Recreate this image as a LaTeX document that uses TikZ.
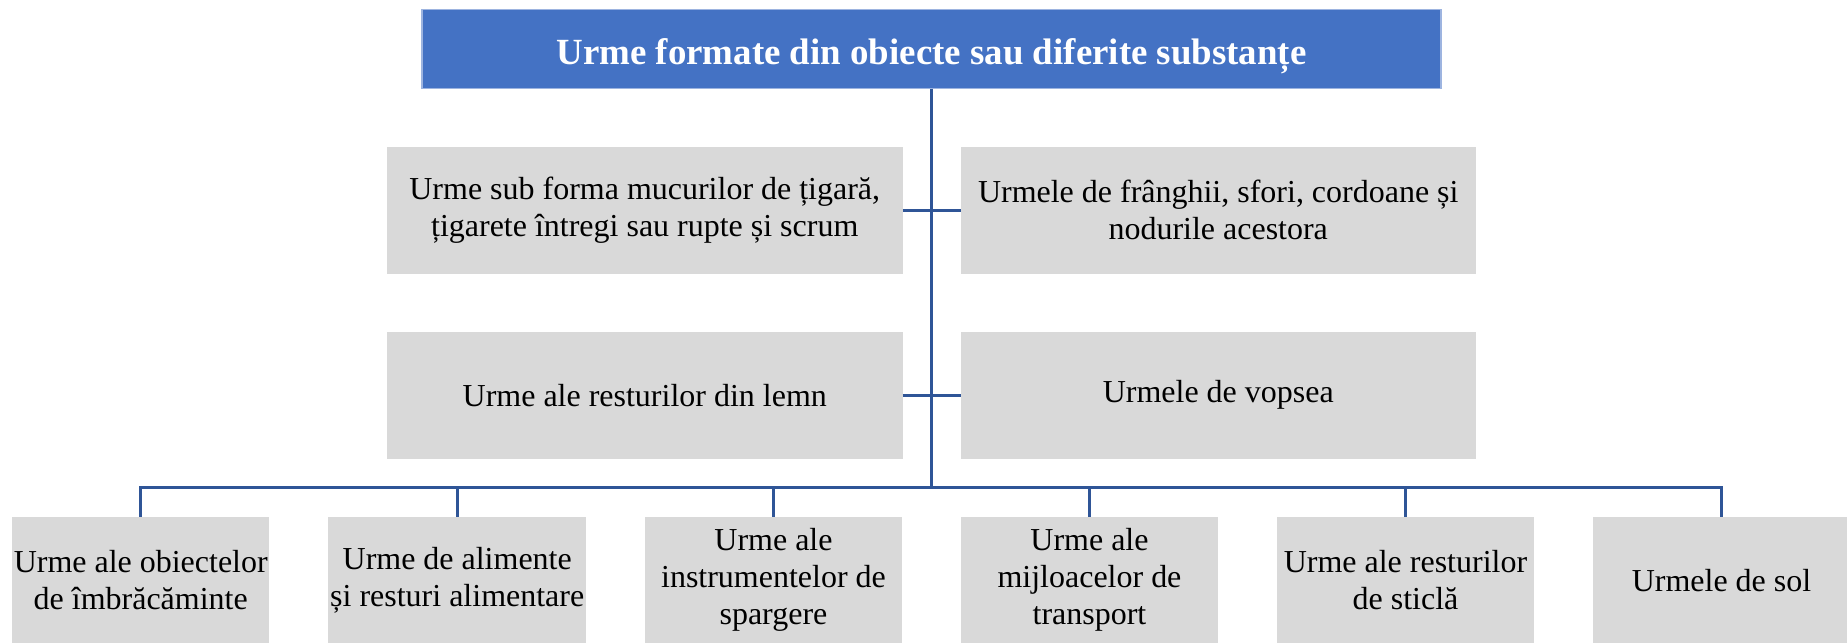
\documentclass[tikz,border=0pt]{standalone}
\usepackage{fontspec}
\setmainfont{Liberation Serif}
\definecolor{headblue}{HTML}{4472C4}
\definecolor{edgeblue}{HTML}{9DB4E0}
\definecolor{linkblue}{HTML}{2F5597}
\definecolor{boxgray}{HTML}{D9D9D9}
\usetikzlibrary{positioning}

\begin{document}
\begin{tikzpicture}[
    node distance=1.16cm,
    head/.style={rectangle, fill=headblue, draw=edgeblue, line width=0.6pt, text=white,
                 minimum width=20.38cm, minimum height=1.58cm, inner sep=2pt,
                 text height=17.5pt, text depth=0pt,
                 font=\fontsize{21}{24}\selectfont\bfseries},
    wide/.style={rectangle, fill=boxgray, minimum width=10.31cm, minimum height=2.54cm,
                 inner sep=1pt, outer sep=0pt, align=center, font=\fontsize{18.2}{21}\selectfont},
    leaf/.style={wide, minimum width=5.14cm},
    link/.style={draw=linkblue, line width=1.7pt}
  ]
    \useasboundingbox (0,0) rectangle (36.94,-12.84);

    \node[head] (title) at (18.63,-0.974) {Urme formate din obiecte sau diferite substanțe};

    % middle rows
    \node[wide, below left=1.16cm and 0.58cm of title.south, anchor=north east] (tigara)
      {Urme sub forma mucurilor de țigară,\\țigarete întregi sau rupte și scrum};
    \node[wide, right=of tigara] (franghii) {Urmele de frânghii, sfori, cordoane și\\nodurile acestora};
    \node[wide, below=of tigara] (lemn) {Urme ale resturilor din lemn};
    \node[wide, right=of lemn] (vopsea) {Urmele de vopsea};

    % bottom row
    \node[leaf, anchor=north west] (haine) at (0.24,-10.334) {Urme ale obiectelor\\de îmbrăcăminte};
    \node[leaf, right=1.18cm of haine] (hrana) {Urme de alimente\\și resturi alimentare};
    \node[leaf, right=1.18cm of hrana] (sparg) {Urme ale\\instrumentelor de\\spargere};
    \node[leaf, right=1.18cm of sparg] (transp) {Urme ale\\mijloacelor de\\transport};
    \node[leaf, right=1.18cm of transp] (sticla) {Urme ale resturilor\\de sticlă};
    \node[leaf, right=1.18cm of sticla] (sol) {Urmele de sol};

    \coordinate[above=0.58cm of haine.north] (bus);

    \draw[link, line width=2pt] (title.south) -- (title.south |- bus);
    \draw[link] (tigara.east) -- (franghii.west);
    \draw[link] (lemn.east) -- (vopsea.west);

    \draw[link] (haine.north) -- (bus) -| (sol.north);
    \draw[link] (hrana.north) -- (hrana.north |- bus);
    \draw[link] (sparg.north) -- (sparg.north |- bus);
    \draw[link] (transp.north) -- (transp.north |- bus);
    \draw[link] (sticla.north) -- (sticla.north |- bus);
  \end{tikzpicture}
\end{document}
